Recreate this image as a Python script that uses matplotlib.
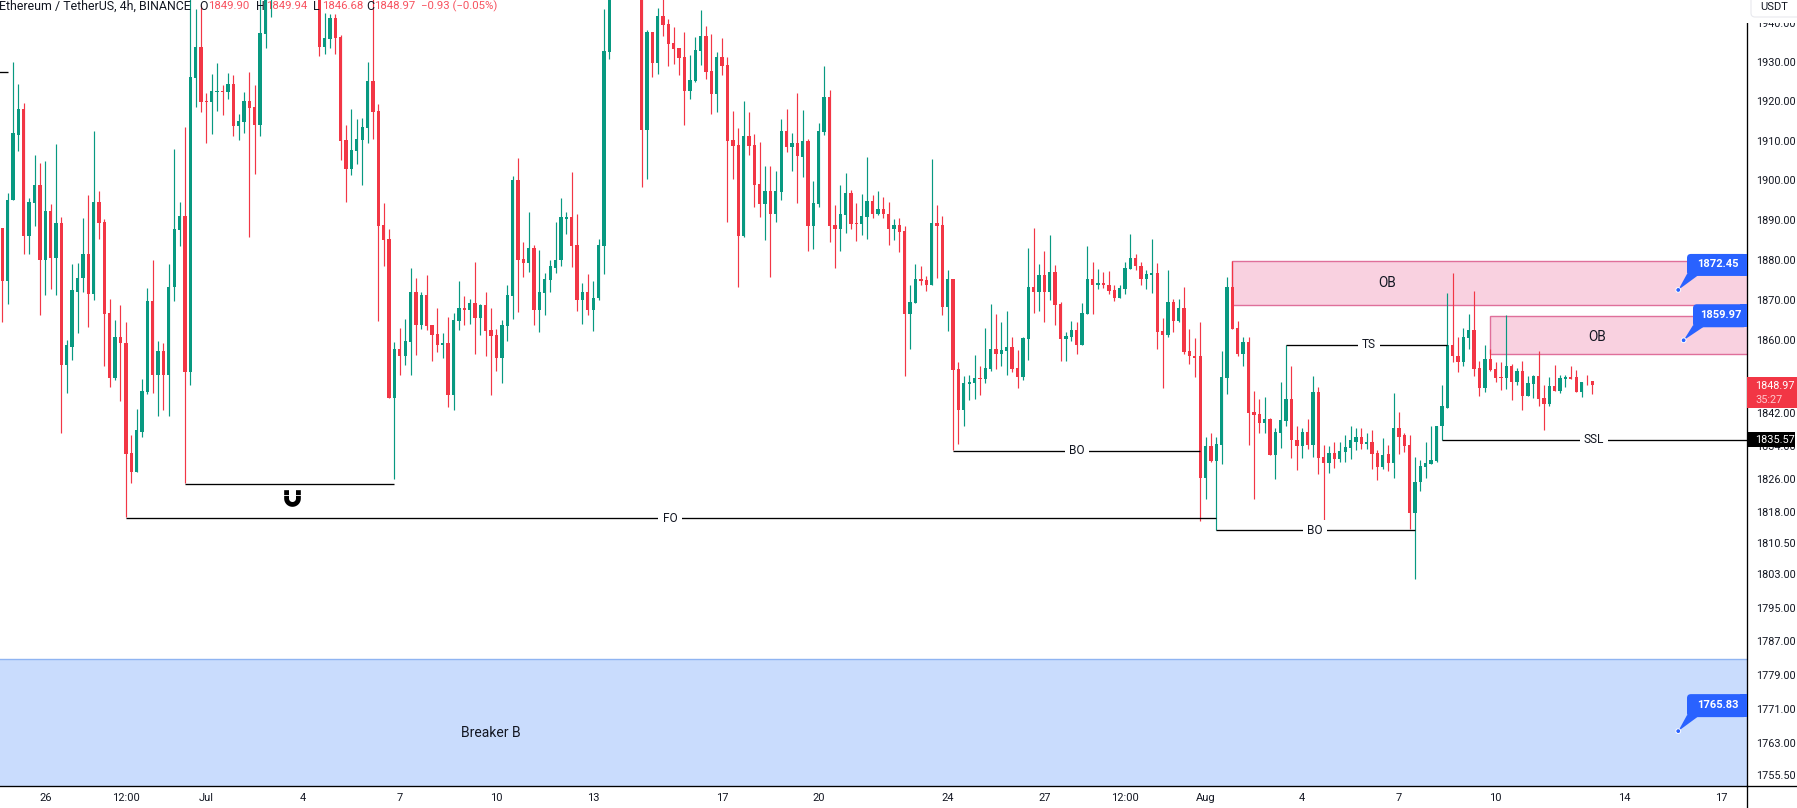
import numpy as np
import matplotlib
matplotlib.use("Agg")
import matplotlib.pyplot as plt
from matplotlib.lines import Line2D
from matplotlib.patches import Rectangle, FancyBboxPatch, Polygon, Circle
from matplotlib.path import Path
from matplotlib.ticker import NullLocator
from matplotlib.transforms import IdentityTransform

nan = float("nan")

highs = [
1888.0,1896.8,1930.0,1924.4,1919.5,1895.5,1906.3,1904.3,1904.8,1894.0,
1909.1,1890.8,1860.1,1878.9,1879.2,1890.5,1896.2,1912.4,1897.2,1890.2,
1870.1,1865.0,1868.7,1864.5,1836.8,1843.0,1850.3,1872.9,1880.0,1859.9,
1859.4,1878.9,1907.9,1894.5,1913.4,1946.5,1943.7,1944.7,1922.1,1927.0,
1929.7,1924.2,1927.2,1926.7,1916.7,1922.3,1927.4,1924.2,1946.5,1948.6,
1953.0,nan,nan,nan,nan,nan,nan,nan,nan,1950.0,
1942.6,1942.4,1942.4,1936.9,1913.9,1918.0,1915.4,1915.7,1930.0,1946.5,
1919.2,1894.2,1887.7,1859.6,1863.1,1865.3,1878.0,1875.3,1871.9,1876.1,
1863.8,1867.9,1861.8,1865.8,1866.7,1874.6,1870.9,1870.1,1879.5,1868.9,
1871.9,1867.9,1862.8,1865.0,1873.8,1901.0,1905.6,1884.5,1892.0,1883.7,
1882.5,1876.6,1880.0,1889.5,1895.5,1892.0,1902.0,1891.5,1874.1,1876.3,
1874.6,1885.2,1943.7,1949.0,nan,nan,nan,nan,nan,1949.0,
1938.2,1937.7,1944.0,1946.5,1941.1,1939.0,1933.6,1937.7,1931.8,1936.5,
1943.4,1939.2,1937.2,1932.6,1936.2,1931.3,1917.5,1913.1,1920.0,1917.2,
1911.6,1909.6,1903.5,1903.5,1902.3,1915.4,1918.0,1911.9,1922.1,1917.7,
1910.4,1899.7,1914.4,1929.0,1922.8,1893.7,1898.7,1901.8,1897.5,1894.2,
1896.5,1905.8,1896.2,1897.2,1895.7,1894.5,1890.2,1890.5,1888.5,1873.6,
1879.0,1878.3,1875.9,1905.3,1893.7,1891.0,1877.5,1875.1,1854.5,1851.1,
1851.5,1856.3,1853.6,1863.1,1868.9,1866.4,1864.5,1867.2,1860.8,1857.5,
1860.8,1883.0,1888.0,1878.9,1882.2,1886.2,1878.6,1869.4,1862.1,1864.8,
1864.5,1869.1,1883.5,1879.5,1877.7,1877.0,1877.2,1873.8,1873.8,1879.5,
1886.5,1881.5,1879.5,1877.5,1885.2,1879.2,1865.5,1877.5,1870.1,1870.1,
1873.3,1862.8,1860.6,1864.5,1836.1,1837.3,1836.1,1857.2,1875.6,1879.7,
1864.8,1860.8,1860.8,1847.4,1845.5,1845.9,1840.9,1838.5,1849.8,1858.9,
1853.6,1838.8,1838.3,1840.6,1851.1,1848.4,1834.2,1834.0,1834.9,1834.9,
1836.8,1838.8,1838.5,1838.3,1837.1,1837.8,1833.0,1835.9,1834.2,1846.9,
1842.3,1837.3,1836.6,1831.3,1830.6,1835.1,1839.0,1839.0,1848.9,1871.6,
1876.6,1860.8,1863.1,1866.4,1872.1,1854.8,1858.7,1857.9,1854.5,1854.5,
1866.2,1854.0,1853.1,1854.8,1851.1,1851.5,1857.2,1848.9,1850.8,1853.8,
1851.3,1851.3,1853.6,1852.6,1849.6,1851.3,1849.94]

lows = [
1864.5,1868.9,1895.0,1907.3,1881.5,1881.5,1888.5,1866.2,1871.1,1872.6,
1871.1,1837.1,1846.9,1855.0,1861.8,1871.9,1863.3,1869.9,1885.2,1853.6,
1848.4,1850.1,1845.0,1816.7,1825.0,1827.6,1836.3,1846.7,1846.9,1841.4,
1842.8,1841.4,1869.6,1883.5,1825.0,1848.9,1918.5,1917.2,1909.3,1911.6,
1917.5,1916.4,1920.5,1911.1,1910.1,1911.9,1885.7,1901.5,1911.1,1933.6,
1941.6,nan,nan,nan,nan,nan,nan,nan,nan,1931.5,
1932.0,1933.6,1932.0,1905.1,1894.5,1901.2,1904.0,1898.7,1909.3,1910.4,
1864.8,1878.3,1845.7,1825.9,1851.3,1853.8,1851.3,1856.3,1862.8,1862.5,
1854.8,1857.0,1855.7,1843.5,1842.8,1862.5,1863.8,1864.0,1856.5,1861.3,
1856.0,1846.4,1852.4,1849.4,1859.9,1865.3,1866.9,1875.6,1877.0,1863.8,
1862.1,1866.2,1871.9,1876.6,1878.3,1886.5,1878.1,1867.2,1864.0,1866.2,
1862.3,1869.9,1876.3,1930.8,nan,nan,nan,nan,nan,1898.2,
1900.2,1926.1,1926.9,1936.7,1929.0,1929.5,1926.7,1913.9,1920.5,1924.9,
1929.2,1925.6,1916.7,1917.2,1926.7,1889.5,1900.2,1873.3,1885.7,1906.3,
1893.2,1890.8,1885.0,1875.6,1889.5,1895.0,1907.1,1902.3,1894.2,1900.7,
1882.2,1882.7,1893.2,1911.4,1884.5,1878.0,1882.2,1886.7,1887.7,1884.7,
1886.2,1885.2,1890.5,1891.2,1890.5,1883.7,1885.0,1882.0,1851.1,1857.7,
1869.1,1873.8,1872.1,1873.8,1875.3,1866.2,1862.3,1833.0,1834.4,1839.0,
1845.2,1845.5,1846.4,1849.4,1852.4,1852.8,1853.6,1851.5,1852.1,1848.1,
1850.1,1855.0,1866.7,1867.2,1864.5,1869.9,1863.8,1854.8,1854.8,1859.9,
1856.5,1858.7,1866.4,1866.4,1872.6,1872.9,1871.4,1869.6,1870.4,1871.4,
1877.7,1877.5,1873.6,1872.6,1871.6,1857.9,1848.1,1860.8,1862.1,1864.5,
1856.5,1854.0,1850.8,1815.8,1821.2,1830.1,1813.6,1829.6,1846.7,1862.8,
1856.0,1853.6,1834.2,1821.2,1837.3,1837.1,1831.8,1825.9,1833.5,1839.0,
1831.1,1828.2,1831.1,1833.3,1831.3,1827.2,1815.7,1827.4,1828.7,1830.1,
1830.1,1830.8,1833.0,1833.3,1833.3,1828.5,1825.7,1828.5,1828.0,1826.2,
1832.0,1832.5,1813.8,1801.9,1823.1,1826.2,1829.6,1830.1,1835.4,1843.3,
1854.5,1852.1,1853.6,1857.9,1851.1,1846.2,1847.2,1852.4,1849.6,1847.6,
1847.9,1845.2,1848.9,1842.8,1846.2,1845.7,1843.7,1837.8,1843.7,1847.4,
1846.9,1848.5,1850.3,1847.2,1845.9,1848.9,1846.68]

opens = [
1888.0,1874.7,1895.0,1911.4,1918.0,1886.0,1894.2,1898.7,1880.0,1892.2,
1880.5,1889.2,1853.8,1858.4,1871.9,1875.3,1881.5,1871.4,1894.5,1889.5,
1866.7,1850.6,1860.8,1859.4,1832.3,1827.6,1837.5,1847.2,1869.6,1851.3,
1857.2,1851.5,1873.3,1887.5,1891.0,1852.1,1925.9,1933.9,1920.0,1919.7,
1922.3,1922.5,1922.3,1924.4,1913.6,1914.7,1920.0,1918.5,1913.9,1937.2,
1947.3,nan,nan,nan,nan,nan,nan,nan,nan,1948.0,
1933.9,1936.0,1941.3,1936.5,1910.1,1902.8,1907.3,1910.1,1913.1,1925.1,
1917.5,1888.7,1885.2,1845.7,1857.9,1856.0,1859.6,1871.9,1863.8,1871.1,
1863.8,1861.6,1858.7,1859.2,1846.4,1864.8,1867.9,1867.4,1869.1,1865.5,
1868.7,1862.5,1861.3,1855.7,1863.5,1870.9,1900.0,1880.2,1879.2,1883.0,
1867.4,1871.6,1874.8,1877.8,1880.0,1890.2,1890.8,1883.7,1869.9,1871.9,
1867.4,1870.4,1883.5,1932.6,nan,nan,nan,nan,nan,1947.3,
1912.6,1937.7,1929.7,1941.8,1939.7,1934.9,1933.6,1931.3,1922.5,1925.1,
1932.9,1936.7,1927.7,1921.8,1931.3,1929.2,1910.1,1908.8,1886.0,1911.1,
1908.8,1899.0,1894.0,1897.2,1891.5,1897.0,1912.4,1908.3,1909.3,1905.8,
1909.8,1888.5,1894.0,1912.1,1921.0,1888.7,1887.7,1891.2,1896.8,1889.2,
1889.0,1890.8,1894.7,1891.5,1892.7,1891.5,1887.7,1888.7,1887.2,1866.4,
1869.1,1875.1,1874.8,1873.8,1889.2,1888.7,1868.2,1875.1,1852.8,1842.8,
1849.1,1849.5,1850.6,1850.3,1852.8,1857.9,1856.7,1857.2,1858.4,1853.1,
1850.8,1860.4,1873.3,1871.9,1876.1,1871.9,1876.8,1868.9,1860.4,1860.8,
1862.6,1858.9,1866.4,1875.1,1873.8,1874.1,1873.8,1872.4,1870.4,1872.6,
1877.7,1880.4,1878.5,1875.1,1876.1,1876.6,1862.3,1861.3,1869.4,1864.8,
1867.9,1857.2,1856.2,1856.0,1826.2,1834.0,1830.3,1834.2,1850.6,1873.3,
1863.1,1856.7,1859.6,1842.3,1841.8,1839.7,1840.6,1831.8,1837.3,1840.2,
1845.5,1835.6,1834.0,1837.5,1834.2,1847.2,1831.3,1829.9,1832.3,1830.8,
1832.5,1833.5,1835.1,1836.3,1834.4,1834.9,1832.3,1828.9,1832.0,1829.9,
1838.5,1836.6,1834.2,1817.8,1825.2,1828.9,1829.6,1830.3,1838.8,1843.3,
1858.9,1856.2,1854.5,1860.6,1862.6,1853.1,1848.1,1855.3,1852.8,1850.8,
1850.6,1853.6,1849.6,1852.4,1846.2,1849.1,1851.1,1845.7,1844.2,1848.6,
1847.4,1850.3,1850.8,1850.8,1847.2,1849.8,1849.90]

closes = [
1874.7,1895.0,1911.9,1918.0,1886.0,1894.5,1898.7,1880.0,1892.2,1880.5,
1889.2,1853.8,1858.7,1872.4,1875.3,1881.5,1871.4,1894.5,1889.2,1866.4,
1850.6,1860.8,1859.2,1832.0,1827.6,1837.8,1847.4,1869.6,1851.3,1857.2,
1851.5,1873.3,1887.7,1891.0,1852.1,1926.1,1933.9,1919.7,1919.7,1922.5,
1922.5,1922.3,1924.4,1913.6,1914.9,1920.0,1918.2,1913.9,1937.4,1947.3,
1950.0,nan,nan,nan,nan,nan,nan,nan,nan,1933.9,
1936.2,1941.3,1936.2,1909.8,1902.8,1907.6,1910.4,1913.4,1925.1,1917.2,
1888.5,1885.0,1845.7,1857.9,1856.0,1859.9,1871.9,1863.8,1871.1,1863.5,
1861.3,1858.7,1859.2,1846.4,1865.0,1867.9,1867.4,1869.1,1865.5,1868.7,
1862.3,1861.1,1855.7,1863.8,1871.1,1900.0,1880.0,1879.2,1883.0,1867.4,
1871.9,1875.1,1878.3,1880.0,1890.8,1890.8,1883.5,1869.9,1871.9,1867.4,
1870.4,1883.7,1932.9,1947.3,nan,nan,nan,nan,nan,1912.6,
1937.7,1929.7,1941.8,1939.5,1934.6,1933.3,1931.0,1922.5,1925.4,1933.1,
1936.7,1927.4,1921.8,1931.3,1929.0,1909.8,1908.6,1886.0,1911.1,1908.6,
1898.7,1894.0,1897.2,1891.5,1897.2,1912.4,1908.3,1909.3,1906.0,1909.8,
1888.5,1894.2,1912.4,1921.0,1888.5,1887.7,1891.5,1896.8,1889.0,1889.0,
1891.0,1894.7,1891.5,1892.7,1891.5,1887.7,1888.7,1887.0,1866.4,1869.4,
1875.1,1874.6,1873.8,1889.2,1888.5,1868.2,1875.1,1852.6,1842.8,1849.4,
1849.8,1850.6,1850.3,1853.1,1857.9,1856.7,1857.5,1858.4,1852.8,1850.8,
1860.6,1873.3,1871.9,1876.1,1871.9,1876.8,1868.7,1860.4,1861.1,1862.6,
1858.9,1866.7,1875.1,1873.8,1874.1,1873.6,1872.1,1870.4,1872.9,1878.0,
1880.4,1878.3,1875.1,1876.3,1876.6,1862.1,1861.3,1869.4,1864.8,1867.9,
1857.0,1856.0,1855.7,1826.2,1834.0,1830.3,1834.4,1850.8,1873.3,1862.8,
1856.7,1859.6,1842.1,1841.6,1839.7,1840.6,1831.8,1837.5,1840.4,1845.5,
1835.4,1834.0,1837.5,1834.2,1847.2,1831.1,1829.9,1832.3,1830.8,1832.8,
1833.7,1835.4,1836.3,1834.4,1834.9,1832.0,1828.9,1831.8,1829.9,1838.5,
1836.3,1834.0,1817.8,1825.2,1829.1,1829.9,1830.6,1839.0,1843.7,1858.9,
1856.0,1854.5,1860.8,1862.6,1852.8,1848.1,1855.3,1852.6,1850.6,1850.6,
1853.6,1849.6,1852.4,1846.2,1849.4,1851.1,1845.5,1844.2,1848.6,1847.4,
1850.6,1850.8,1850.3,1847.2,1849.8,1849.6,1848.97]

price_ticks = [1940, 1930, 1920, 1910, 1900, 1890, 1880, 1870, 1860, 1850, 1842,
               1834, 1826, 1818, 1810.5, 1803, 1795, 1787, 1779, 1771, 1763, 1755.5]
date_bars = [8, 23, 38, 56, 74, 92, 110, 134, 152, 176, 194, 209, 224, 242, 260, 278, 302, 320]
date_labels = ["26", "12:00", "Jul", "4", "7", "10", "13", "17", "20", "24", "27",
               "12:00", "Aug", "4", "7", "10", "14", "17"]

# levels drawn on the chart: (label, first bar, last bar, price, label bar)
level_lines = [
    ("", 34, 73, 1824.9, None),
    ("FO", 23, 226, 1816.5, 124.3),
    ("BO", 177, 223, 1832.9, 200),
    ("BO", 226, 263, 1813.6, 244.4),
    ("TS", 239, 269, 1858.9, 254.4),
    ("SSL", 268, 325, 1835.57, 296.3),
    ("", -1, 1, 1927.4, None),
]
# zones: (label, first bar, top price, bottom price, label bar, label price)
red_zones = [("OB", 229, 1879.6, 1868.7, 257.8, 1874.2),
             ("OB", 277, 1865.9, 1856.5, 296.9, 1860.7)]
blue_zone = ("Breaker B", -1, 1782.8, 1740.0, 90.9, 1765.5)
callouts = [(312, 1872.45, 60, 14, 22), (313, 1859.97, 54, 13, 23), (312, 1765.83, 60, 14, 23)]
last_price = 1848.97
ssl_price = 1835.57

W, H = 1797, 808
TEXT = "#131722"
RED = "#F23645"
GREEN = "#089981"
FONT = "Roboto"
plt.rcParams["font.family"] = [FONT, "DejaVu Sans"]

fig = plt.figure(figsize=(W / 100, H / 100), dpi=100, facecolor="white")
ax = fig.add_axes([0, 22 / H, 1747 / W, 786 / H])
ax.set_yscale("log")
ax.set_xlim(-0.428, 324.8)
ax.set_ylim(1753.0, 1946.0)

o = np.array(opens, float); h = np.array(highs, float)
l = np.array(lows, float); c = np.array(closes, float)
idx = np.arange(len(o))
ok = ~np.isnan(o)
up = c >= o
cols = np.where(up, GREEN, RED)

wicks = ax.vlines(idx[ok], l[ok], h[ok], colors=cols[ok], linewidth=0.85, zorder=3)
wicks.set_snap(True)
ax.bar(idx[ok], np.abs(c - o)[ok], bottom=np.minimum(o, c)[ok], width=0.62,
       color=cols[ok], linewidth=0, antialiased=False, zorder=3)

PINK_F, PINK_E = "#F9D1E0", "#DF6F9A"
for lab, b0, top, bot, lx, ly in red_zones:
    ax.add_patch(Rectangle((b0, bot), 330 - b0, top - bot, facecolor=PINK_F, edgecolor=PINK_E,
                           linewidth=1.0, zorder=1))
    ax.text(lx, ly, lab, ha="center", va="center", fontsize=9.8, color=TEXT, zorder=6)
lab, b0, top, bot, lx, ly = blue_zone
ax.add_patch(Rectangle((b0 - 5, bot), 340, top - bot, facecolor="#C9DCFD", edgecolor="#8FB4F2",
                       linewidth=1.0, zorder=1))
ax.text(lx, ly, lab, ha="center", va="center", fontsize=10.0, color=TEXT, zorder=6)

for lab, b0, b1, price, lx in level_lines:
    ax.plot([b0, b1], [price, price], color="black", linewidth=0.95, zorder=4, solid_capstyle="butt")
    if lab:
        ax.text(lx, price, lab, ha="center", va="center", fontsize=8.6, color=TEXT, zorder=6,
                bbox=dict(facecolor="white", edgecolor="none", pad=3.0))

# magnet
th = np.linspace(np.pi, 2 * np.pi, 24)
verts = ([(-1, 1)] + [(np.cos(t), np.sin(t)) for t in th] + [(1, 1), (0.42, 1)]
         + [(0.42 * np.cos(t), 0.42 * np.sin(t)) for t in th[::-1]] + [(-0.42, 1), (-1, 1)])
magnet = Path(verts, closed=True)
ax.plot([53.9], [1821.4], marker=magnet, markersize=12.0, color="black", markeredgewidth=0, zorder=5)
ax.plot([53.9], [1822.2], marker="_", markersize=13, color="white", markeredgewidth=0.6, zorder=5.5)

ax.yaxis.tick_right()
ax.set_yticks(price_ticks)
ax.set_yticklabels([f"{t:.2f}" for t in price_ticks])
ax.yaxis.set_minor_locator(NullLocator())
ax.xaxis.set_minor_locator(NullLocator())
ax.set_xticks(date_bars)
ax.set_xticklabels(date_labels)
ax.tick_params(axis="y", which="both", length=0, pad=6.5, labelsize=7.8, labelcolor=TEXT)
ax.tick_params(axis="x", which="both", length=0, pad=5.0, labelsize=8.0, labelcolor=TEXT)
for s in ("top", "left"):
    ax.spines[s].set_visible(False)
for s in ("right", "bottom"):
    ax.spines[s].set_linewidth(0.95)
    ax.spines[s].set_color("black")

ident = IdentityTransform()


def add(artist, z=10):
    artist.set_transform(ident)
    artist.set_zorder(z)
    fig.add_artist(artist)
    return artist


def ftext(x, y, s, **kw):
    kw.setdefault("fontsize", 8.9)
    kw.setdefault("va", "center")
    t = fig.text(x / W, 1 - y / H, s, zorder=12, **kw)
    return t


# axis extensions
fig.add_artist(Line2D([1747 / W, 1], [22 / H, 22 / H], color="black", linewidth=0.95, zorder=9))
fig.add_artist(Line2D([1747 / W, 1747 / W], [0, 22 / H], color="black", linewidth=0.95, zorder=9))

# callouts
BLUE = "#2962FF"
for bar, price, bw, gap, bh in callouts:
    x, y = ax.transData.transform((bar, price))
    bot = y + gap
    left = 1747 - bw
    add(FancyBboxPatch((left, bot), bw, bh, boxstyle="round,pad=0,rounding_size=4",
                       facecolor=BLUE, edgecolor="none"), 10)
    add(Rectangle((1740, bot), 7, bh, facecolor=BLUE, edgecolor="none"), 10)
    add(Polygon([(x, y), (left, bot + 2), (left + 13, bot + 2)], closed=True,
                facecolor=BLUE, edgecolor="none"), 10)
    add(Circle((x, y), 2.4, facecolor=BLUE, edgecolor="white", linewidth=0.7), 11)
    fig.text((left + bw / 2 + 1) / W, (bot + bh / 2 + 1) / H, f"{price:.2f}", color="white",
             fontsize=8.0, fontweight="bold", ha="center", va="center", zorder=12)

# last price tag
add(Rectangle((1747, H - 408), 50, 31, facecolor="#F23645", edgecolor="none"), 10)
ftext(1755, 386, "1848.97", color="white", fontsize=7.8)
ftext(1755, 399.5, "35:27", color="#FFC7CC", fontsize=7.8)

# SSL price tag
_, sy = ax.transData.transform((0, ssl_price))
add(Rectangle((1748, sy - 7.5), 47, 15, facecolor="black", edgecolor="none"), 10)
fig.text(1755.5 / W, sy / H, "1835.57", color="white", fontsize=7.8, va="center", zorder=12)

# top right currency box
add(Rectangle((1745, H - 23), 52, 23, facecolor="white", edgecolor="none"), 13)
add(FancyBboxPatch((1751, H - 17), 60, 30, boxstyle="round,pad=0,rounding_size=4",
                   facecolor="white", edgecolor="#E8E9EE", linewidth=0.8), 13.5)
t = ftext(1760, 7.5, "USDT", color=TEXT, fontsize=8.0)
t.set_zorder(14)

# header
ftext(-1, 6, "Ethereum / TetherUS, 4h, BINANCE", color=TEXT)
for x, lab in [(199, "O"), (256, "H"), (313, "L"), (366, "C")]:
    ftext(x, 6, lab, color=TEXT)
HDR = "#F7525F"
for x, lab in [(208, "1849.90"), (266, "1849.94"), (322, "1846.68"), (374, "1848.97"),
               (421, "\u22120.93 (\u22120.05%)")]:
    ftext(x, 6, lab, color=HDR, fontsize=8.2)

fig.savefig("out.png", dpi=100, facecolor="white")
